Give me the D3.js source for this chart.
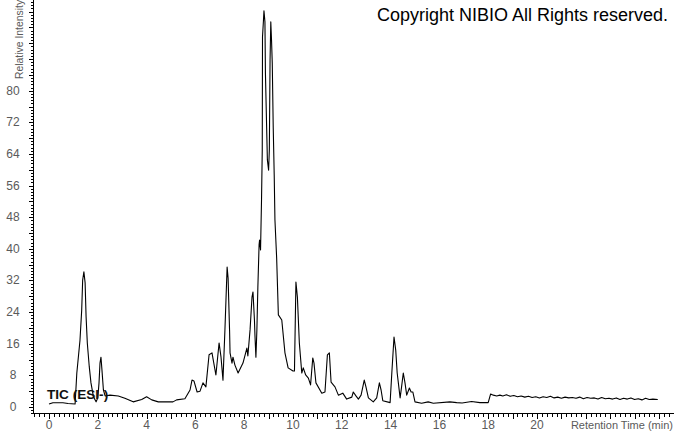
<!DOCTYPE html>
<html><head><meta charset="utf-8">
<script src="https://cdn.jsdelivr.net/npm/d3@7"></script>
<style>
html,body{margin:0;padding:0;background:#fff;}
svg{display:block;font-family:"Liberation Sans",Arial,sans-serif;}
</style></head>
<body>
<svg id="chart" width="674" height="434"></svg>
<script>
// Retention time (min)
const times = [0,0.16,0.57,0.78,1.07,1.14,1.27,1.34,1.38,1.43,1.48,1.52,1.57,1.65,1.72,1.82,1.93,2.0,2.05,2.09,2.13,2.17,2.23,2.30,2.5,2.84,3.11,3.45,3.80,4.0,4.21,4.48,5.08,5.23,5.57,5.78,5.86,5.94,6.07,6.19,6.31,6.43,6.56,6.68,6.84,6.97,7.05,7.13,7.21,7.30,7.34,7.40,7.42,7.50,7.54,7.62,7.75,7.95,8.11,8.15,8.24,8.32,8.36,8.42,8.44,8.48,8.52,8.56,8.61,8.63,8.67,8.71,8.74,8.75,8.79,8.81,8.85,8.87,8.92,8.95,9.0,9.03,9.06,9.09,9.12,9.15,9.19,9.23,9.26,9.33,9.40,9.54,9.67,9.80,10.0,10.06,10.12,10.18,10.26,10.36,10.42,10.52,10.63,10.72,10.81,10.86,10.94,11.18,11.31,11.41,11.49,11.56,11.72,11.86,12.04,12.20,12.41,12.47,12.58,12.68,12.79,12.92,12.99,13.09,13.29,13.43,13.54,13.61,13.68,13.98,14.05,14.14,14.21,14.27,14.39,14.45,14.52,14.59,14.66,14.77,14.84,14.91,15.0,15.27,15.54,15.75,16.43,16.71,16.93,17.32,17.66,18.0,18.1,18.21,18.35,18.48,18.6,18.75,18.9,19.05,19.2,19.35,19.5,19.65,19.8,19.95,20.1,20.25,20.4,20.55,20.7,20.85,21.0,21.15,21.3,21.45,21.6,21.75,21.9,22.05,22.2,22.35,22.5,22.65,22.8,22.95,23.1,23.25,23.4,23.55,23.7,23.85,24.0,24.15,24.3,24.45,24.6,24.75,24.95];
// Relative intensity (%)
const intensity = [0.76,1.09,1.09,0.89,0.76,8.6,16.9,24.5,32.1,34.2,31.4,22.8,16.2,10.2,6.1,2.6,1.3,2.3,6.1,11.1,12.6,9.4,4.3,2.8,3.0,2.8,2.2,1.3,1.9,2.6,1.8,1.3,1.3,1.8,2.1,4.3,6.8,6.6,3.8,4.0,6.1,5.1,13.2,13.7,8.1,16.2,12.6,6.8,19.5,35.4,32.6,19.5,13.7,11.1,12.6,10.6,8.6,11.1,14.9,12.9,19.5,27.8,29.1,22.0,18.2,12.6,19.5,30.3,41.0,42.2,39.7,52.4,65.0,93.6,97.9,100.2,97.4,84.5,70.6,62.5,59.9,65.0,87.8,97.4,92.8,87.0,70.6,58.7,47.3,37.7,23.3,22.0,13.7,9.9,9.1,9.1,31.6,27.8,16.2,8.6,9.9,8.1,7.3,5.6,12.4,11.1,6.1,3.5,3.8,13.2,13.7,6.3,5.1,3.0,3.5,2.0,2.5,3.8,2.8,2.0,3.0,6.8,5.1,2.3,1.3,2.3,6.1,4.3,1.6,1.1,8.6,17.7,14.4,8.6,2.3,5.1,8.6,6.1,3.0,4.8,3.8,3.8,1.3,0.94,1.3,0.94,1.3,1.1,1.0,1.4,1.1,1.1,3.3,3.0,2.8,3.0,2.8,3.1,2.7,2.9,2.6,2.8,2.5,2.7,2.4,2.6,2.3,2.6,2.4,2.7,2.3,2.5,2.2,2.5,2.3,2.4,2.2,2.5,2.1,2.4,2.2,2.3,2.0,2.4,2.1,2.2,2.0,2.3,1.9,2.2,2.0,2.3,1.9,2.1,1.8,2.2,1.9,2.0,1.9];
const xTickLabels = [0,2,4,6,8,10,12,14,16,18,20];
const yTickLabels = [0,8,16,24,32,40,48,56,64,72,80];

const svg = d3.select("#chart");
const x = d3.scaleLinear().domain([0, 20]).range([49, 537]);
const y = d3.scaleLinear().domain([0, 80]).range([407, 90.7]);

const axisY0 = 413.5, axisX0 = 33.5;
const gray = "#5a5a5a";

// X axis
const gx = svg.append("g").attr("transform", `translate(0,${axisY0})`);
const xMinor = d3.range(-3, 129).map(i => +(i * 0.2).toFixed(1));
gx.call(d3.axisBottom(x).tickValues(xMinor).tickSize(3).tickFormat(""));
gx.select(".domain").remove();
const gx2 = svg.append("g").attr("transform", `translate(0,${axisY0})`);
gx2.call(d3.axisBottom(x).tickValues(d3.range(0, 26)).tickSize(5).tickFormat(""));
gx2.select(".domain").remove();
svg.selectAll("g line").attr("stroke", "#000").attr("shape-rendering", "crispEdges");
svg.append("g").selectAll("text").data(xTickLabels).join("text")
  .attr("x", d => x(d)).attr("y", 429).attr("text-anchor", "middle")
  .attr("font-size", 12).attr("fill", gray).text(d => d);
svg.append("line").attr("x1", 33).attr("x2", 674).attr("y1", axisY0).attr("y2", axisY0)
  .attr("stroke", "#000").attr("shape-rendering", "crispEdges");

// Y axis
const gy = svg.append("g").attr("transform", `translate(${axisX0},0)`);
const yMinor = d3.range(-2, 130).map(i => +(i * 0.8).toFixed(1));
gy.call(d3.axisLeft(y).tickValues(yMinor).tickSize(3).tickFormat(""));
gy.select(".domain").remove();
const gy2 = svg.append("g").attr("transform", `translate(${axisX0},0)`);
gy2.call(d3.axisLeft(y).tickValues(d3.range(0, 104, 4)).tickSize(5).tickFormat(""));
gy2.select(".domain").remove();
svg.selectAll("g line").attr("stroke", "#000").attr("shape-rendering", "crispEdges");
svg.append("g").selectAll("text").data(yTickLabels).join("text")
  .attr("x", 13).attr("y", d => y(d) + 4).attr("text-anchor", "middle")
  .attr("font-size", 12).attr("fill", gray).text(d => d);
svg.append("line").attr("x1", axisX0).attr("x2", axisX0).attr("y1", 0).attr("y2", 414)
  .attr("stroke", "#000").attr("shape-rendering", "crispEdges");

// Axis titles
svg.append("text").attr("transform", "translate(22.5,79) rotate(-90)")
  .attr("font-size", 10.4).attr("fill", gray).text("Relative Intensity");
svg.append("text").attr("x", 673).attr("y", 429).attr("text-anchor", "end")
  .attr("font-size", 11).attr("fill", gray).text("Retention Time (min)");

// Trace
const line = d3.line().x((d, i) => x(times[i])).y(d => y(d));
svg.append("path").datum(intensity).attr("d", line)
  .attr("fill", "none").attr("stroke", "#000").attr("stroke-width", 1.1)
  .attr("stroke-linejoin", "round");

// Labels
svg.append("text").attr("x", 47).attr("y", 399).attr("font-size", 13.6)
  .attr("font-weight", "bold").attr("fill", "#111").text("TIC (ESI-)");
svg.append("text").attr("x", 377).attr("y", 21).attr("font-size", 18)
  .attr("fill", "#000").text("Copyright NIBIO All Rights reserved.");
</script>
</body></html>
